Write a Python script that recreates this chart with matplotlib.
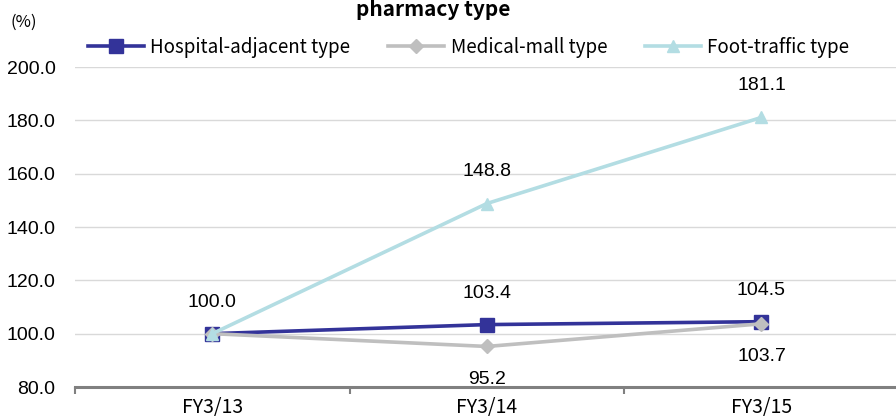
import matplotlib.pyplot as plt
import numpy as np

plt.rcParams['font.family'] = ['Noto Sans CJK JP', 'DejaVu Sans']

# data
years = ["FY3/13", "FY3/14", "FY3/15"]
hospital = [100.0, 103.4, 104.5]
medical = [100.0, 95.2, 103.7]
foot = [100.0, 148.8, 181.1]

series_names = ["Hospital-adjacent type", "Medical-mall type", "Foot-traffic type"]
colors = ["#333399", "#BFBFBF", "#B3DDE3"]
markers = ["s", "D", "^"]
msizes = [10.5, 7.5, 9]

fig = plt.figure(figsize=(8.96, 4.2), dpi=100)
ax = fig.add_axes([75 / 896, 33 / 420, 821 / 896, 320 / 420])

x = np.arange(len(years))
order = [(medical, 1), (foot, 2), (hospital, 0)]
handles = {}
for vals, i in order:
    h, = ax.plot(x, vals, color=colors[i], lw=2.6, marker=markers[i],
                 markersize=msizes[i], label=series_names[i], zorder=3 + i)
    handles[i] = h

# value labels
num_font = dict(fontsize=14, family=['Liberation Sans', 'DejaVu Sans'],
                ha='center', va='center')
for xi, v in zip(x, hospital):
    ax.annotate(f"{v:.1f}", (xi, v), xytext=(0, 22.5), textcoords='offset points', **num_font)
for xi, v in zip(x[1:], medical[1:]):
    ax.annotate(f"{v:.1f}", (xi, v), xytext=(0, -23.5), textcoords='offset points', **num_font)
for xi, v in zip(x[1:], foot[1:]):
    ax.annotate(f"{v:.1f}", (xi, v), xytext=(0, 23), textcoords='offset points', **num_font)

ax.set_xlim(-0.5, 2.49)
ax.set_ylim(80, 200)
ax.set_yticks(np.arange(80, 201, 20))
ax.set_yticklabels([f"{t:.1f}" for t in np.arange(80, 201, 20)],
                   family=['Liberation Sans', 'DejaVu Sans'], fontsize=14)
ax.set_xticks(x)
ax.set_xticklabels(years, fontsize=14)
ax.set_xticks([-0.5, 0.5, 1.5], minor=True)
ax.tick_params(axis='x', which='major', length=0, pad=7)
ax.tick_params(axis='x', which='minor', length=5, width=1.5, color='#808080')
ax.tick_params(axis='y', length=0, pad=14)

ax.grid(axis='y', color='#D9D9D9', lw=1)
ax.set_axisbelow(True)
for s in ['top', 'right', 'left']:
    ax.spines[s].set_visible(False)
ax.spines['bottom'].set_color('#808080')
ax.spines['bottom'].set_linewidth(2.2)
ax.spines['bottom'].set_zorder(2)

fig.text(433 / 896, 1 - 9 / 420, "pharmacy type", ha='center', va='center',
         fontsize=15, fontweight='bold')
fig.text(24 / 896, 1 - 22 / 420, "(%)", ha='center', va='center', fontsize=12)

fig.legend([handles[0], handles[1], handles[2]], series_names,
           loc='center left', bbox_to_anchor=(80 / 896, 1 - 47 / 420),
           ncol=3, frameon=False, fontsize=13.5, handlelength=3.0,
           columnspacing=2.0, handletextpad=0.35, borderaxespad=0)

fig.savefig("out.png", dpi=100)
